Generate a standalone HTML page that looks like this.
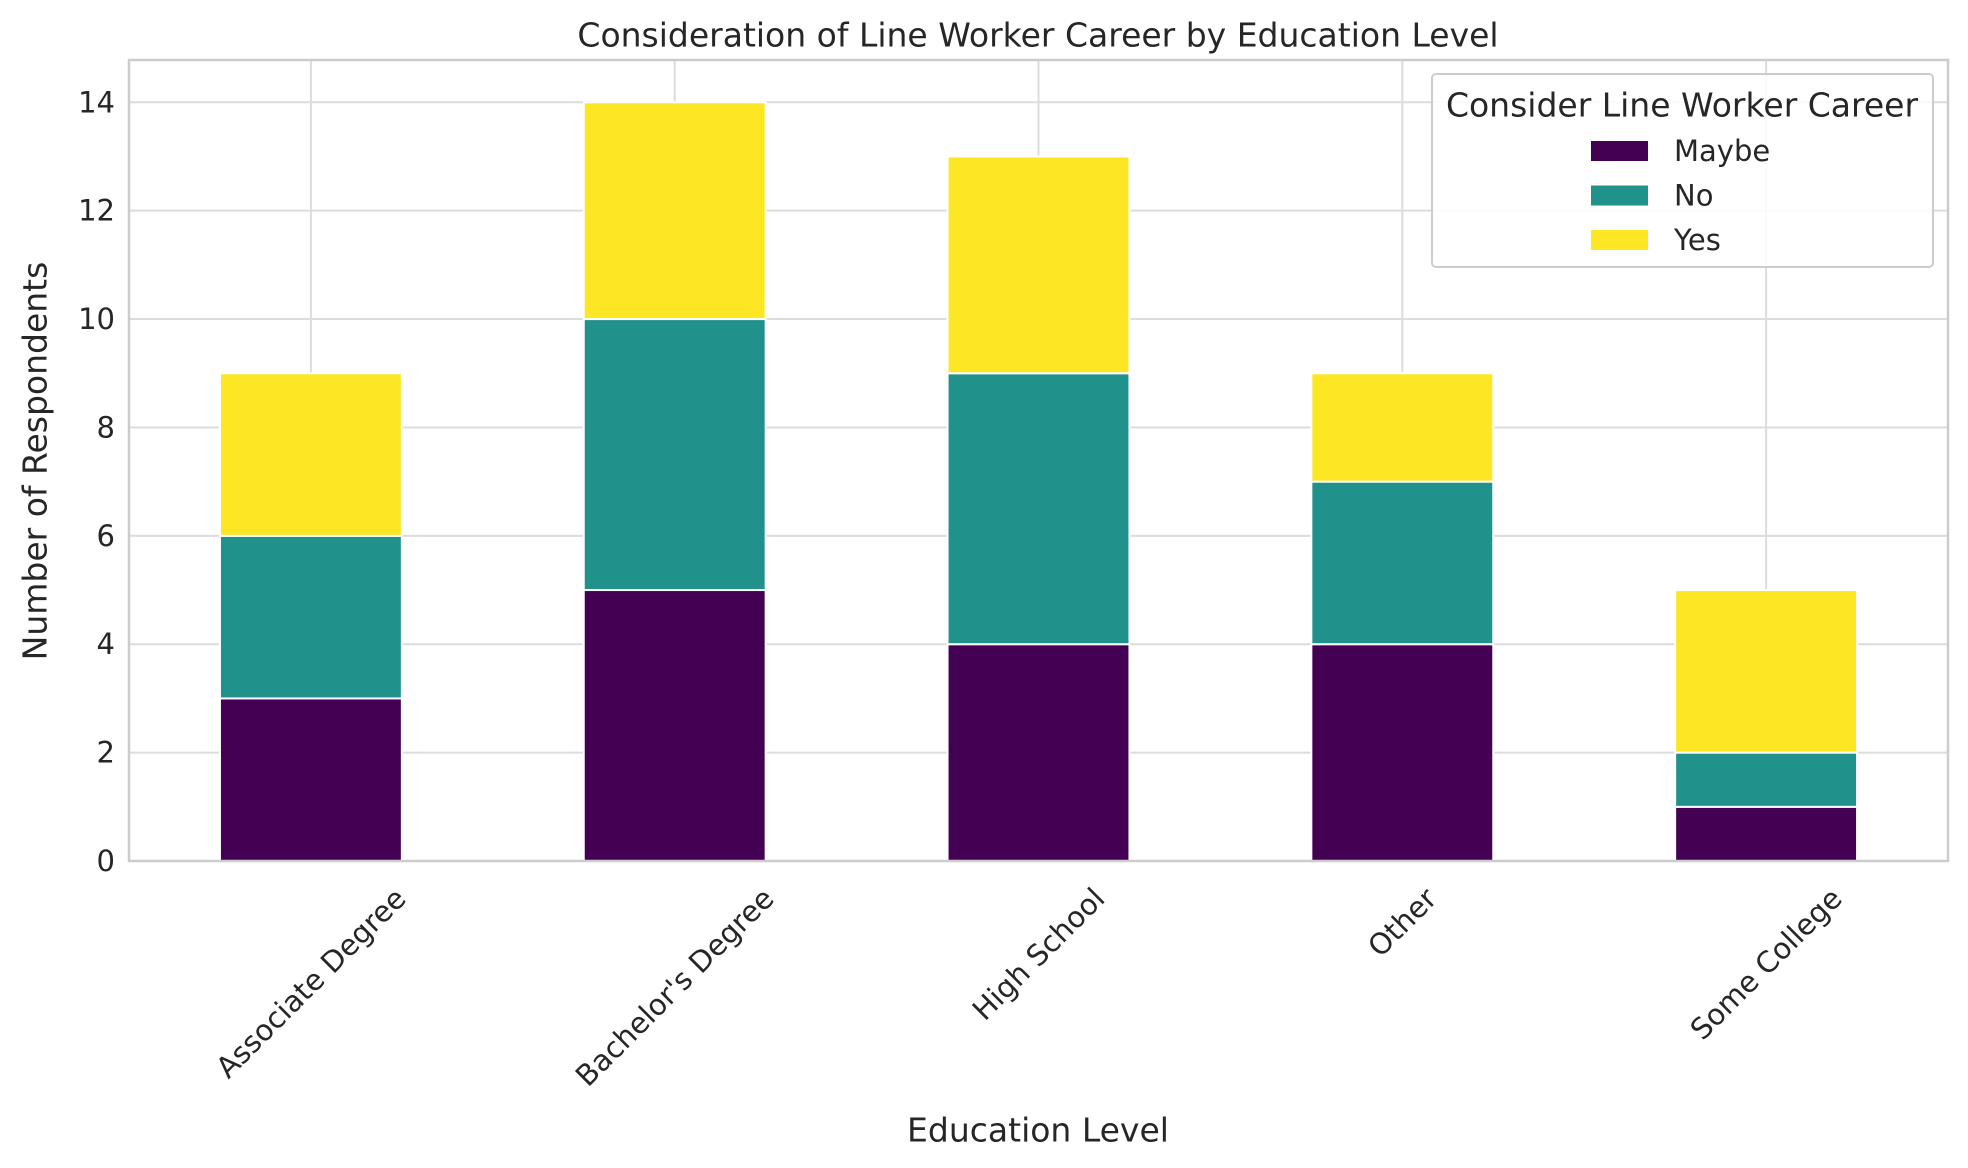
<!DOCTYPE html>
<html><head><meta charset="utf-8"><style>
html,body{margin:0;padding:0;background:#fff}
svg{display:block;font-family:"DejaVu Sans","Liberation Sans",sans-serif;fill:#262626}
</style></head><body>
<svg id="chart" width="1968" height="1168" viewBox="0 0 1968 1168">
<text x="1038" y="35" font-size="33" text-anchor="middle" dominant-baseline="central">Consideration of Line Worker Career by Education Level</text>
<g id="grid"></g>
<g id="bars"></g>
<g id="axes"></g>
<text transform="translate(35,461) rotate(-90)" font-size="33" text-anchor="middle" dominant-baseline="central">Number of Respondents</text>
<text x="1038" y="1130" font-size="33" text-anchor="middle" dominant-baseline="central">Education Level</text>
<g id="legend"></g>
</svg>
<script>
const categories = ["Associate Degree","Bachelor's Degree","High School","Other","Some College"];
const seriesNames = ["Maybe","No","Yes"];
const maybeVals = [3,5,4,4,1];
const noVals = [3,5,5,3,1];
const yesVals = [3,4,4,2,3];
const yTicks = [0,2,4,6,8,10,12,14];
const colors = ["#440154","#21918c","#fde725"];

const NS="http://www.w3.org/2000/svg";
const L=129,R=1948,T=60,B=861,yMax=14.78;
const y=v=>B-(v/yMax)*(B-T);
const band=(R-L)/categories.length;
const x=i=>L+band*(i+0.5);
const bw=band*0.5;
function mk(tag,attrs,parent){const e=document.createElementNS(NS,tag);for(const k in attrs)e.setAttribute(k,attrs[k]);parent.appendChild(e);return e;}
const grid=document.getElementById('grid'),bars=document.getElementById('bars'),axes=document.getElementById('axes'),leg=document.getElementById('legend');
yTicks.forEach(t=>{
  const g=mk('line',{x1:L,x2:R,y1:y(t),y2:y(t),stroke:'#dcdcdc','stroke-width':2},grid);
  
  
  const tx=mk('text',{x:L-14,y:y(t),'font-size':29,'text-anchor':'end','dominant-baseline':'central'},axes);
  tx.textContent=t;
  
  
});
categories.forEach((c,i)=>{
  const g=mk('line',{x1:x(i),x2:x(i),y1:T,y2:B,stroke:'#dcdcdc','stroke-width':2},grid);
  
  
});
const all=[maybeVals,noVals,yesVals];
categories.forEach((c,i)=>{
  let base=0;
  all.forEach((arr,s)=>{
    const v=arr[i];
    const r=mk('rect',{x:x(i)-bw/2,y:y(base+v),width:bw,height:y(base)-y(base+v),fill:colors[s],stroke:'#fff','stroke-width':2},bars);
    
    
    base+=v;
  });
  const tx=mk('text',{'font-size':29,'text-anchor':'middle','dominant-baseline':'central'},axes);
  tx.textContent=c;
  
  
  const len=tx.getComputedTextLength();
  const h=(len+29)*0.7071;
  tx.setAttribute('transform','translate('+x(i)+','+(B+22+h/2)+') rotate(-45)');
});
const fr=mk('rect',{x:L,y:T,width:R-L,height:B-T,fill:'none',stroke:'#cccccc','stroke-width':2.5},axes);


const lb=mk('rect',{x:1432,y:74,width:501,height:193,rx:4,fill:'#fff','fill-opacity':0.85,stroke:'#cccccc','stroke-width':2},leg);


const lt=mk('text',{x:1682,y:105,'font-size':33,'text-anchor':'middle','dominant-baseline':'central'},leg);
lt.textContent='Consider Line Worker Career';


seriesNames.forEach((n,s)=>{
  const cy=151+s*44.5;
  const p=mk('rect',{x:1591,y:cy-10,width:57,height:20,fill:colors[s]},leg);
  
  
  const t=mk('text',{x:1674,y:cy,'font-size':29,'dominant-baseline':'central'},leg);
  t.textContent=n;
  
  
});
</script>
</body></html>
